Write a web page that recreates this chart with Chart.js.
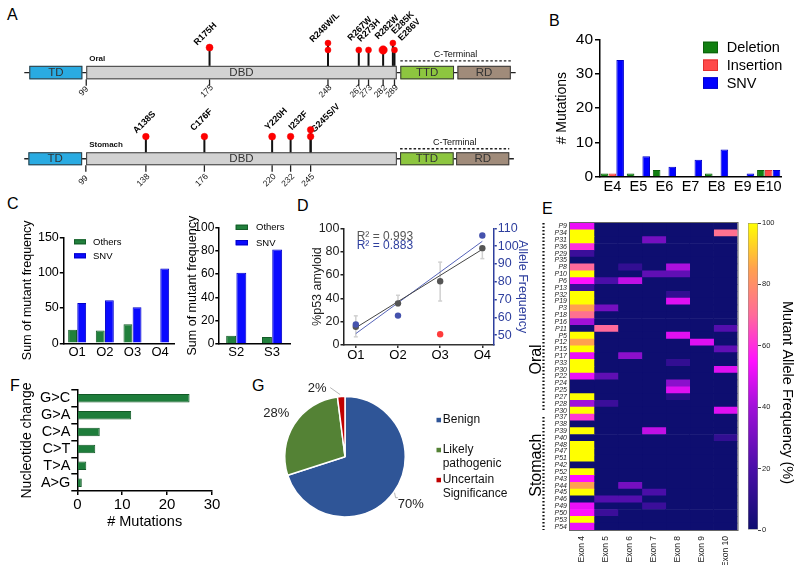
<!DOCTYPE html>
<html><head><meta charset="utf-8">
<script src="https://cdn.jsdelivr.net/npm/chart.js@4.4.1/dist/chart.umd.min.js"></script>
<style>
html,body{margin:0;padding:0;background:#fff;}
#fig{position:relative;width:800px;height:572px;overflow:hidden;background:#fff;}
#fig canvas{position:absolute;}
.L{position:absolute;font:16px/16px "Liberation Sans",Arial,sans-serif;color:#000;}
</style></head><body>
<div id="fig">
 <div class="L" style="left:7px;top:7px">A</div>
 <div class="L" style="left:549px;top:13px">B</div>
 <div class="L" style="left:7px;top:196px">C</div>
 <div class="L" style="left:297px;top:198px">D</div>
 <div class="L" style="left:542px;top:201px">E</div>
 <div class="L" style="left:10px;top:378px">F</div>
 <div class="L" style="left:252px;top:378px">G</div>
</div>
<script>
// ================= DATA =================
// Panel A - TP53 domain maps (schematic residue units) and mutations
const domainNames = ['TD', 'DBD', 'TTD', 'RD'];
const oralDomainStart = [63.9, 99, 292.6, 327.8];
const oralDomainEnd = [96.6, 290.4, 325.7, 360.7];
const oralBackbone = [60.8, 363.7];
const stomachDomainStart = [61.7, 99.2, 303.1, 339.5];
const stomachDomainEnd = [96.6, 301.0, 337.9, 374.0];
const stomachBackbone = [59.0, 377.0];
const oralMutPos = [175, 248, 248, 267, 273, 282, 288, 289];
const oralMutLevel = [1.35, 1, 2, 1, 1, 1, 2, 1];
const oralSitePos = [175, 248, 267, 273, 282, 288];
const oralSiteNames = ['R175H', 'R248W/L', 'R267W', 'R273H', 'R282W', 'E285K\nE286V'];
const oralTicks = [99, 175, 248, 267, 273, 282, 289];
const stomachMutPos = [138, 176, 220, 232, 245, 245];
const stomachMutLevel = [1, 1, 1, 1, 2, 1];
const stomachSitePos = [138, 176, 220, 232, 245];
const stomachSiteNames = ['A138S', 'C176F', 'Y220H', 'I232F', 'G245S/V'];
const stomachTicks = [99, 138, 176, 220, 232, 245];

// Panel B
const exonLabels = ['E4', 'E5', 'E6', 'E7', 'E8', 'E9', 'E10'];
const deletionCounts = [1, 1, 2, 0, 1, 0, 2];
const insertionCounts = [1, 0, 0, 0, 0, 0, 2];
const snvCounts = [34, 6, 3, 5, 8, 1, 2];

// Panel C
const organoidLabels = ['O1', 'O2', 'O3', 'O4'];
const organoidOthers = [19, 18, 27, 1];
const organoidSNV = [57, 61, 51, 106];
const stomachOrgLabels = ['S2', 'S3'];
const stomachOrgOthers = [7, 6];
const stomachOrgSNV = [61, 81];

// Panel D
const amyloidPct = [15.7, 35.7, 54.6, 83];
const amyloidLow = [7, 33.4, 37.7, 74];
const amyloidHigh = [25, 42.6, 71, 82];
const alleleFreq = [56, 61, 50.5, 106];
const fitX = [1, 4];
const amyloidFit = [14.8, 82];
const alleleFit = [50.9, 102.7];
const amyloidR2 = '0.993';
const alleleR2 = '0.883';

// Panel E
const patientLabels = ['P9','P34','P31','P36','P29','P35','P8','P10','P6','P13','P32','P19','P3','P18','P16','P11','P5','P12','P15','P17','P33','P30','P22','P24','P25','P27','P28','P30','P37','P38','P39','P40','P48','P47','P51','P42','P52','P43','P44','P45','P46','P49','P50','P53','P54'];
const oralPatientCount = 28;
const exonNames = ['Exon 4', 'Exon 5', 'Exon 6', 'Exon 7', 'Exon 8', 'Exon 9', 'Exon 10'];
const exon4 = [52,100,100,60,15,0,70,100,55,15,100,100,85,72,40,0,100,85,100,52,100,100,52,0,0,100,40,100,62,0,100,0,100,100,100,0,100,55,85,100,0,52,55,100,52];
const exon5 = [0,0,0,0,0,0,0,0,20,0, 0,0,30,0,0,70,0,0,0,0, 0,0,25,0,0,0,15,0,0,0, 0,0,0,0,0,0,0,0,0,0, 22,0,15,0,0];
const exon6 = [0,0,0,0,0,0,12,0,45,0, 0,0,0,0,0,0,0,0,0,35, 0,0,0,0,0,0,0,0,0,0, 0,0,0,0,0,0,0,0,30,0, 22,0,0,0,0];
const exon7 = [0,0,30,0,0,0,0,25,0,0, 0,0,0,0,0,0,0,0,0,0, 0,0,0,0,0,0,0,0,0,0, 45,0,0,0,0,0,0,0,0,20, 0,15,0,0,0];
const exon8 = [0,0,0,0,0,0,42,25,0,0, 12,50,0,0,0,0,50,0,0,0, 12,0,0,35,50,8,0,0,0,0, 0,0,0,0,0,0,0,0,0,0, 0,0,0,0,0];
const exon9 = [0,0,0,0,0,0,0,0,0,0, 0,0,0,0,0,0,0,50,0,0, 0,0,0,0,0,0,0,0,0,0, 0,0,0,0,0,0,0,0,0,0, 0,0,0,0,0];
const exon10 = [0,72,0,0,0,0,0,0,0,0, 0,0,0,0,0,22,0,0,25,0, 0,50,0,0,0,0,0,50,0,0, 0,12,0,0,0,0,0,0,0,0, 0,0,0,0,0];
const colorbarTicks = [0, 20, 40, 60, 80, 100];

// Panel F
const nucleotideChanges = ['G>C', 'G>A', 'C>A', 'C>T', 'T>A', 'A>G'];
const nucleotideCounts = [25, 12, 5, 4, 2, 1];

// Panel G
const significanceLabels = ['Benign', 'Likely pathogenic', 'Uncertain Significance'];
const significancePct = [70, 28, 2];

// ================= STYLE =================
const FF = "'Liberation Sans', Arial, Helvetica, sans-serif";
Chart.defaults.font.family = FF;
Chart.defaults.color = '#000';
Chart.defaults.animation = false;
Chart.defaults.responsive = false;
Chart.defaults.maintainAspectRatio = false;
Chart.defaults.plugins.legend.display = false;
Chart.defaults.plugins.tooltip.enabled = false;
Chart.defaults.events = [];

const domainColors = ['#29abe2', '#d2d2d2', '#8dc63f', '#a08b7a'];
const cmapStops = [[0,[14,14,112]],[20,[74,14,168]],[40,[160,16,216]],[55,[255,16,255]],[70,[255,106,154]],[85,[255,160,80]],[100,[255,255,0]]];
function heatColor(v) {
  for (let i = 1; i < cmapStops.length; i++) {
    const [v1, c1] = cmapStops[i], [v0, c0] = cmapStops[i - 1];
    if (v <= v1) {
      const t = (v - v0) / (v1 - v0);
      return 'rgb(' + c0.map((c, k) => Math.round(c + (c1[k] - c) * t)).join(',') + ')';
    }
  }
  return 'rgb(255,255,0)';
}

function mk(left, top, w, h) {
  const c = document.createElement('canvas');
  c.width = w; c.height = h;
  c.style.left = left + 'px'; c.style.top = top + 'px';
  c.style.width = w + 'px'; c.style.height = h + 'px';
  document.getElementById('fig').appendChild(c);
  return c;
}

function axis(o) {
  const col = o.color || '#000';
  const a = {
    ticks: {font: {size: o.fs}, padding: o.pad != null ? o.pad : 2, color: col, autoSkip: false, includeBounds: false, minRotation: 0, maxRotation: 0},
    grid: o.tl ? {drawOnChartArea: false, drawTicks: true, tickLength: o.tl, color: col, lineWidth: 1.5} : {display: false, drawTicks: false},
    border: {display: true, color: col, width: 1.5},
    title: o.title ? {display: true, text: o.title, font: {size: o.tfs}, color: col, padding: {top: o.tpad || 0, bottom: o.tpad || 0}} : {display: false}
  };
  if (o.min != null) a.min = o.min;
  if (o.max != null) a.max = o.max;
  if (o.step) a.ticks.stepSize = o.step;
  if (o.position) a.position = o.position;
  if (o.type) a.type = o.type;
  if (o.w != null) a.afterFit = s => { s.width = o.w; };
  if (o.h != null) a.afterFit = s => { s.height = o.h; };
  return a;
}

function boxLegend(o) {
  return { id: 'boxLegend', afterDraw(chart) {
    const ctx = chart.ctx; ctx.save();
    chart.data.datasets.forEach((d, i) => {
      const y = o.y + i * o.lineH;
      ctx.fillStyle = d.backgroundColor; ctx.fillRect(o.x, y, o.boxW, o.boxH);
      ctx.strokeStyle = d.borderColor; ctx.lineWidth = 1; ctx.strokeRect(o.x + 0.5, y + 0.5, o.boxW - 1, o.boxH - 1);
      ctx.fillStyle = '#000'; ctx.font = o.font; ctx.textAlign = 'left'; ctx.textBaseline = 'middle';
      ctx.fillText(d.label, o.x + o.textDx, y + o.boxH / 2 + 0.5);
    });
    ctx.restore();
  }};
}

// ================= PANEL A =================
function lollipopPlugin(c) {
  return { id: 'lollipop', beforeDatasetsDraw(chart) {
    const ctx = chart.ctx, xs = chart.scales.x, ys = chart.scales.y;
    const X = v => xs.getPixelForValue(v);
    const y0 = ys.getPixelForValue(0);
    const bTop = y0 + c.boxTop, bBot = y0 + c.boxBottom, bMid = (bTop + bBot) / 2;
    ctx.save();
    ctx.strokeStyle = '#222'; ctx.lineWidth = 1.3;
    ctx.beginPath(); ctx.moveTo(X(c.backbone[0]), bMid); ctx.lineTo(X(c.backbone[1]), bMid); ctx.stroke();
    domainNames.forEach((name, i) => {
      const x1 = X(c.dStart[i]), x2 = X(c.dEnd[i]);
      ctx.fillStyle = domainColors[i]; ctx.fillRect(x1, bTop, x2 - x1, bBot - bTop);
      ctx.strokeStyle = '#3a3a3a'; ctx.lineWidth = 1; ctx.strokeRect(x1 + 0.5, bTop + 0.5, x2 - x1 - 1, bBot - bTop - 1);
      ctx.fillStyle = '#333'; ctx.font = '11.5px ' + FF; ctx.textAlign = 'center'; ctx.textBaseline = 'middle';
      ctx.fillText(name, (x1 + x2) / 2, bMid + 0.5);
    });
    const cx1 = X(c.dStart[2]), cx2 = X(c.dEnd[3]);
    ctx.setLineDash([2.5, 2]); ctx.lineWidth = 1.3; ctx.strokeStyle = '#222';
    ctx.beginPath(); ctx.moveTo(cx1, bTop - c.dashOff); ctx.lineTo(cx2, bTop - c.dashOff); ctx.stroke();
    ctx.setLineDash([]);
    ctx.fillStyle = '#111'; ctx.font = '9px ' + FF; ctx.textAlign = 'center'; ctx.textBaseline = 'alphabetic';
    ctx.fillText('C-Terminal', (cx1 + cx2) / 2, bTop - c.cTextOff);
    ctx.font = 'bold 8px ' + FF; ctx.textAlign = 'left';
    ctx.fillText(c.tissue, X(c.dStart[1]) + 3, bTop - c.tissueOff);
    ctx.lineWidth = 1.3; ctx.strokeStyle = '#222'; ctx.fillStyle = '#111'; ctx.font = '8.5px ' + FF;
    c.ticks.forEach(t => {
      const x = X(t);
      ctx.beginPath(); ctx.moveTo(x, bBot); ctx.lineTo(x, bBot + 6.5); ctx.stroke();
      ctx.save(); ctx.translate(x - 2.5, bBot + c.tickLabelOff); ctx.rotate(-Math.PI / 4);
      ctx.textAlign = 'center'; ctx.textBaseline = 'middle'; ctx.fillText(String(t), 0, 0); ctx.restore();
    });
    ctx.lineWidth = 2; ctx.strokeStyle = '#111';
    c.pos.forEach((p, i) => {
      const x = X(p);
      ctx.beginPath(); ctx.moveTo(x, ys.getPixelForValue(c.level[i])); ctx.lineTo(x, bTop); ctx.stroke();
    });
    ctx.font = 'bold 9px ' + FF; ctx.fillStyle = '#000'; ctx.textAlign = 'left'; ctx.textBaseline = 'alphabetic';
    c.sitePos.forEach((p, i) => {
      const lv = Math.max(...c.pos.map((q, k) => q === p ? c.level[k] : -Infinity));
      const off = c.labelOff[i];
      ctx.save(); ctx.translate(X(p) + off[0], ys.getPixelForValue(lv) + off[1]); ctx.rotate(-Math.PI / 4);
      c.siteNames[i].split('\n').forEach((line, j) => ctx.fillText(line, 0, j * 9.5));
      ctx.restore();
    });
    ctx.restore();
  }};
}

function lollipopRow(canvas, c) {
  return new Chart(canvas, {
    type: 'scatter',
    data: { datasets: [{ data: c.pos.map((p, i) => ({x: p, y: c.level[i]})), pointRadius: c.radius,
      pointBackgroundColor: '#ff0000', pointBorderColor: '#f00000', pointBorderWidth: 0.5 }] },
    options: {
      layout: {padding: 0},
      scales: { x: {type: 'linear', display: false, min: c.xmin, max: c.xmax},
                y: {type: 'linear', display: false, min: c.ymin, max: c.ymax} }
    },
    plugins: [lollipopPlugin(c)]
  });
}

lollipopRow(mk(0, 0, 540, 110), {
  pos: oralMutPos, level: oralMutLevel, sitePos: oralSitePos, siteNames: oralSiteNames, ticks: oralTicks,
  dStart: oralDomainStart, dEnd: oralDomainEnd, backbone: oralBackbone, tissue: 'Oral',
  radius: [3.5, 3, 3, 3, 3, 4.2, 3, 3],
  labelOff: [[-12.3, -1.9], [-15, -0.3], [-7.7, -8.8], [-7.7, -7.8], [-5, -10.2], [2, -8.7]],
  xmin: 48.73, xmax: 375.8, ymax: 7.6, ymin: -7.0667,
  boxTop: 9, boxBottom: 22.5, dashOff: 5, cTextOff: 8.7, tissueOff: 4.5, tickLabelOff: 12
});
lollipopRow(mk(0, 88, 540, 110), {
  pos: stomachMutPos, level: stomachMutLevel, sitePos: stomachSitePos, siteNames: stomachSiteNames, ticks: stomachTicks,
  dStart: stomachDomainStart, dEnd: stomachDomainEnd, backbone: stomachBackbone, tissue: 'Stomach',
  radius: [3.3, 3.3, 3.5, 3.3, 3.3, 3.3],
  labelOff: [[-9.3, -2.7], [-10.6, -5.3], [-4, -6], [1.3, -6], [3.7, 3.2]],
  xmin: 46.18, xmax: 391.05, ymax: 7.4, ymin: -7.2667,
  boxTop: 8.8, boxBottom: 21.8, dashOff: 3.5, cTextOff: 7.5, tissueOff: 5, tickLabelOff: 15
});

// ================= PANEL B =================
new Chart(mk(540, 25, 260, 174), {
  type: 'bar',
  data: { labels: exonLabels, datasets: [
    {label: 'Deletion', data: deletionCounts, backgroundColor: '#118011', borderColor: '#0b610b', borderWidth: 1},
    {label: 'Insertion', data: insertionCounts, backgroundColor: '#ff4a4a', borderColor: '#e03030', borderWidth: 1},
    {label: 'SNV', data: snvCounts, backgroundColor: '#0000ff', borderColor: '#0000c8', borderWidth: 1}
  ]},
  options: {
    datasets: {bar: {categoryPercentage: 0.9, barPercentage: 0.97}},
    layout: {padding: {top: 14.3, right: 18.3, left: 0, bottom: 0}},
    scales: {
      x: axis({fs: 14.5, pad: 1, h: 22}),
      y: axis({min: 0, max: 40, step: 10, fs: 15.5, pad: 2, tl: 4.3, title: '# Mutations', tfs: 14, tpad: 14, w: 59.3})
    }
  },
  plugins: [boxLegend({x: 163, y: 16.7, boxW: 15, boxH: 11.5, lineH: 17.8, textDx: 23.7, font: '14.5px ' + FF})]
});

// ================= PANEL C =================
new Chart(mk(0, 215, 185, 150), {
  type: 'bar',
  data: { labels: organoidLabels, datasets: [
    {label: 'Others', data: organoidOthers, backgroundColor: '#21803c', borderColor: '#145c28', borderWidth: 1},
    {label: 'SNV', data: organoidSNV, backgroundColor: '#0a0aff', borderColor: '#0000c8', borderWidth: 1}
  ]},
  options: {
    datasets: {bar: {categoryPercentage: 0.66, barPercentage: 0.97}},
    layout: {padding: {top: 22.3, right: 11, left: 0, bottom: 0}},
    scales: {
      x: axis({fs: 13, pad: 1, h: 21.7}),
      y: axis({min: 0, max: 150, step: 50, fs: 12.5, pad: 1, tl: 3.5, title: 'Sum of mutant frequency', tfs: 12.5, tpad: 20.5, w: 63.3})
    }
  },
  plugins: [boxLegend({x: 74, y: 24.3, boxW: 12, boxH: 5, lineH: 14, textDx: 19, font: '9.5px ' + FF})]
});

new Chart(mk(165, 205, 130, 160), {
  type: 'bar',
  data: { labels: stomachOrgLabels, datasets: [
    {label: 'Others', data: stomachOrgOthers, backgroundColor: '#21803c', borderColor: '#145c28', borderWidth: 1},
    {label: 'SNV', data: stomachOrgSNV, backgroundColor: '#0a0aff', borderColor: '#0000c8', borderWidth: 1}
  ]},
  options: {
    datasets: {bar: {categoryPercentage: 0.57, barPercentage: 0.97}},
    layout: {padding: {top: 22.3, right: 5, left: 0, bottom: 0}},
    scales: {
      x: axis({fs: 13, pad: 1, h: 21}),
      y: axis({min: 0, max: 100, step: 20, fs: 12, pad: 1, tl: 3, title: 'Sum of mutant frequency', tfs: 12.5, tpad: 20, w: 53.3})
    }
  },
  plugins: [boxLegend({x: 70.7, y: 19.7, boxW: 12.3, boxH: 5.3, lineH: 15.3, textDx: 20.3, font: '9.5px ' + FF})]
});

// ================= PANEL D =================
const blueAxis = '#2e3f9e';
const errorBars = { id: 'errorBars', beforeDatasetsDraw(chart) {
  const {ctx, scales: {x, y}} = chart;
  ctx.save(); ctx.strokeStyle = '#d0d0d0'; ctx.lineWidth = 1.5;
  amyloidPct.forEach((_, i) => {
    const px = x.getPixelForValue(i + 1);
    ctx.beginPath(); ctx.moveTo(px, y.getPixelForValue(amyloidLow[i])); ctx.lineTo(px, y.getPixelForValue(amyloidHigh[i])); ctx.stroke();
    [amyloidLow[i], amyloidHigh[i]].forEach(v => { const py = y.getPixelForValue(v); ctx.beginPath(); ctx.moveTo(px - 2, py); ctx.lineTo(px + 2, py); ctx.stroke(); });
  });
  ctx.restore();
}, afterDraw(chart) {
  const {ctx, chartArea: a} = chart;
  ctx.save(); ctx.font = '12px ' + FF; ctx.textAlign = 'left'; ctx.textBaseline = 'alphabetic';
  ctx.fillStyle = '#555'; ctx.fillText('R\u00B2 = ' + amyloidR2, a.left + 12.7, a.top + 11.2);
  ctx.fillStyle = blueAxis; ctx.fillText('R\u00B2 = ' + alleleR2, a.left + 12.7, a.top + 20.7);
  ctx.restore();
}};
new Chart(mk(295, 215, 245, 155), {
  type: 'scatter',
  data: { datasets: [
    {data: alleleFreq.map((v, i) => ({x: i + 1, y: v})), yAxisID: 'y2', pointRadius: 3.2, pointBorderWidth: 0,
     pointBackgroundColor: ['#4552ad', '#4552ad', '#ff3b3b', '#4552ad']},
    {data: amyloidPct.map((v, i) => ({x: i + 1, y: v})), yAxisID: 'y', pointRadius: 3.2, pointBorderWidth: 0, pointBackgroundColor: '#555'},
    {type: 'line', data: fitX.map((x, i) => ({x, y: amyloidFit[i]})), yAxisID: 'y', borderColor: '#444', borderWidth: 1, pointRadius: 0},
    {type: 'line', data: fitX.map((x, i) => ({x, y: alleleFit[i]})), yAxisID: 'y2', borderColor: '#5563b8', borderWidth: 1, pointRadius: 0}
  ]},
  options: {
    layout: {padding: {top: 13.3, right: 0, left: 0, bottom: 0}},
    scales: {
      x: Object.assign(axis({type: 'linear', min: 0.72, max: 4.26, fs: 13, pad: 0, tl: 3, h: 25, color: '#333'}), {
        afterBuildTicks(s) { s.ticks = organoidLabels.map((_, i) => ({value: i + 1})); },
        ticks: {font: {size: 13}, padding: 0, color: '#000', minRotation: 0, maxRotation: 0, callback: v => organoidLabels[v - 1]}
      }),
      y: axis({position: 'left', min: 0, max: 100, step: 20, fs: 12.5, pad: 1, tl: 3.5, title: '%p53 amyloid', tfs: 12.5, tpad: 15, w: 49, color: '#222'}),
      y2: axis({position: 'right', min: 44.5, max: 110, step: 10, fs: 12.5, pad: 1, tl: 3.5, title: 'Allele Frequency', tfs: 12.5, tpad: 10, w: 46.7, color: blueAxis})
    }
  },
  plugins: [errorBars]
});

// ================= PANEL E =================
const exonValues = [exon4, exon5, exon6, exon7, exon8, exon9, exon10];
const heatDecor = { id: 'heatDecor', afterDatasetsDraw(chart) {
  const {ctx, chartArea: a, scales: {y}} = chart;
  const rowH = (a.bottom - a.top) / patientLabels.length;
  ctx.save();
  ctx.strokeStyle = '#666'; ctx.lineWidth = 1;
  ctx.strokeRect(a.left - 0.5, a.top - 0.5, a.right - a.left + 1, a.bottom - a.top + 1);
  ctx.strokeStyle = '#111'; ctx.lineWidth = 2.2; ctx.setLineDash([1.6, 1.9]);
  const dx = 16.5;
  const split = y.getPixelForValue(oralPatientCount - 1) + rowH / 2;
  [[a.top, split - 3], [split + 3, a.bottom]].forEach(([t, b]) => {
    ctx.beginPath(); ctx.moveTo(dx, t); ctx.lineTo(dx, b); ctx.stroke();
  });
  ctx.setLineDash([]);
  ctx.fillStyle = '#000'; ctx.font = '16px ' + FF; ctx.textAlign = 'center'; ctx.textBaseline = 'alphabetic';
  [['Oral', 19.5], ['Stomach', 35]].forEach(([t, r]) => {
    ctx.save(); ctx.translate(14, y.getPixelForValue(r)); ctx.rotate(-Math.PI / 2); ctx.fillText(t, 0, 0); ctx.restore();
  });
  ctx.restore();
}};
new Chart(mk(527, 215, 215, 350), {
  type: 'bar',
  data: { labels: patientLabels, datasets: exonValues.map((vals, j) => ({
    label: exonNames[j], data: vals.map(() => [j, j + 1]), backgroundColor: vals.map(heatColor),
    borderWidth: 0, grouped: false, barPercentage: 1, categoryPercentage: 1
  }))},
  options: {
    indexAxis: 'y',
    layout: {padding: {top: 8, right: 3, left: 0, bottom: 0}},
    scales: {
      x: {type: 'linear', min: 0, max: 7,
          afterBuildTicks(s) { s.ticks = exonNames.map((_, j) => ({value: j + 0.5})); },
          ticks: {callback: v => exonNames[Math.floor(v)], minRotation: 90, maxRotation: 90, font: {size: 8.5}, padding: 6, autoSkip: false, color: '#222'},
          grid: {display: false, drawTicks: false}, border: {display: false}, afterFit(s) { s.height = 35; }},
      y: {type: 'category', ticks: {autoSkip: false, font: {size: 7, style: 'italic'}, padding: 3, color: '#222'},
          grid: {display: false, drawTicks: false}, border: {display: false}, afterFit(s) { s.width = 43; }}
    }
  },
  plugins: [heatDecor]
});

const cbTitle = { id: 'cbTitle', afterDraw(chart) {
  const ctx = chart.ctx; ctx.save();
  ctx.font = '14.5px ' + FF; ctx.fillStyle = '#000'; ctx.textAlign = 'center'; ctx.textBaseline = 'middle';
  ctx.translate(44.5, 177.5); ctx.rotate(Math.PI / 2); ctx.fillText('Mutant Allele Frequency (%)', 0, 0);
  ctx.restore();
}};
new Chart(mk(742, 215, 58, 330), {
  type: 'bar',
  data: { labels: [''], datasets: [{ data: [[colorbarTicks[0], colorbarTicks[colorbarTicks.length - 1]]],
    backgroundColor(c) {
      const a = c.chart.chartArea; if (!a) return '#000';
      const g = c.chart.ctx.createLinearGradient(0, a.bottom, 0, a.top);
      cmapStops.forEach(([v, col]) => g.addColorStop(v / 100, 'rgb(' + col.join(',') + ')'));
      return g;
    }, borderColor: '#888', borderWidth: 0.8, borderSkipped: false, barPercentage: 1, categoryPercentage: 1 }]},
  options: {
    layout: {padding: {top: 8, left: 6, right: 0, bottom: 15}},
    scales: {
      x: {display: false},
      y: {position: 'right', min: 0, max: 100,
          afterBuildTicks(s) { s.ticks = colorbarTicks.map(v => ({value: v})); },
          ticks: {font: {size: 7.5}, padding: 1, color: '#222'},
          grid: {drawOnChartArea: false, drawTicks: true, tickLength: 3, color: '#444'}, border: {display: false},
          afterFit(s) { s.width = 42; }}
    }
  },
  plugins: [cbTitle]
});

// ================= PANEL F =================
new Chart(mk(0, 380, 225, 156), {
  type: 'bar',
  data: { labels: nucleotideChanges, datasets: [{ data: nucleotideCounts, backgroundColor: '#1e7d3b', borderColor: '#125a27', borderWidth: 1,
    categoryPercentage: 0.5, barPercentage: 1 }]},
  options: {
    indexAxis: 'y',
    layout: {padding: {top: 9.9, right: 13, left: 0, bottom: 0}},
    scales: {
      x: axis({min: 0, max: 30, step: 10, fs: 15, pad: 1, tl: 4, title: '# Mutations', tfs: 14.5, tpad: 5.3, h: 44.9}),
      y: axis({fs: 14.5, pad: 1, tl: 6, title: 'Nucleotide change', tfs: 14, tpad: 19, w: 77.3})
    }
  }
});

// ================= PANEL G =================
const pieColors = ['#2f5597', '#548235', '#c00000'];
const pieLabels = { id: 'pieLabels', afterDatasetsDraw(chart) {
  const ctx = chart.ctx, arcs = chart.getDatasetMeta(0).data;
  ctx.save();
  ctx.font = '13px ' + FF; ctx.fillStyle = '#222'; ctx.textAlign = 'center'; ctx.textBaseline = 'middle';
  ctx.strokeStyle = '#b5b5b5'; ctx.lineWidth = 1;
  arcs.forEach((arc, i) => {
    const p = arc.getProps(['x', 'y', 'startAngle', 'endAngle', 'outerRadius'], true);
    const m = (p.startAngle + p.endAngle) / 2, cx = Math.cos(m), cy = Math.sin(m), r = p.outerRadius;
    const ax = p.x + cx * (r + 1), ay = p.y + cy * (r + 1);
    let lx, ly;
    if (i === 2) {
      lx = p.x + cx * r - 24; ly = p.y + cy * r - 8;
      ctx.beginPath(); ctx.moveTo(ax - 1, ay - 1); ctx.lineTo(lx + 13, ly - 1); ctx.stroke();
    } else {
      lx = p.x + cx * r * 1.35; ly = p.y + cy * r * 1.35;
      if (i === 0) { ctx.beginPath(); ctx.moveTo(ax, ay); ctx.lineTo(ax + 1, ay + 5); ctx.lineTo(lx - 13, ay + 5); ctx.stroke(); }
    }
    ctx.fillText(significancePct[i] + '%', lx, ly);
  });
  ctx.font = '12px ' + FF; ctx.textAlign = 'left';
  significanceLabels.forEach((lab, i) => {
    const y = 40 + i * 30;
    ctx.fillStyle = pieColors[i]; ctx.fillRect(181.5, y - 2.2, 4.5, 4.5);
    ctx.fillStyle = '#111';
    lab.split(' ').forEach((w, j) => ctx.fillText(w, 187.7, y + j * 14));
  });
  ctx.restore();
}};
new Chart(mk(255, 380, 285, 150), {
  type: 'pie',
  data: { labels: significanceLabels, datasets: [{ data: significancePct, backgroundColor: pieColors, borderColor: '#fff', borderWidth: 1.5 }]},
  options: { layout: {padding: {left: 29, top: 15.7, right: 134, bottom: 12.3}} },
  plugins: [pieLabels]
});
</script>
</body></html>
